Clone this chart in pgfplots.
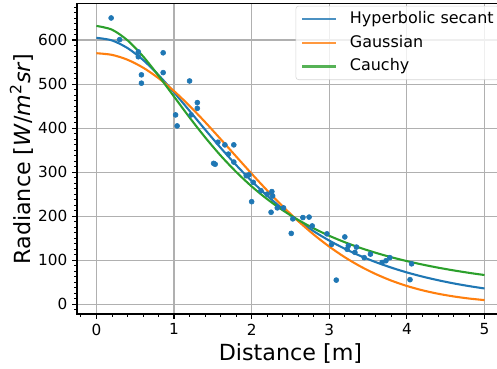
\documentclass[border=0pt]{standalone}
\usepackage{fontspec}
\setmainfont{DejaVu Sans}[ItalicFont={DejaVu Sans Oblique},BoldFont={DejaVu Sans Bold}]
\usepackage{pgfplots}
\pgfplotsset{compat=1.18}
\definecolor{c0}{HTML}{1F77B4}
\definecolor{c1}{HTML}{FF7F0E}
\definecolor{c2}{HTML}{2CA02C}
\definecolor{gridc}{HTML}{B0B0B0}
\definecolor{legc}{HTML}{CCCCCC}
\begin{document}
\begin{tikzpicture}
\begin{axis}[
  scale only axis, width=307.4pt, height=223.3pt,
  xmin=-0.25, xmax=5.25, ymin=-22, ymax=682,
  xtick={0,1,2,3,4,5}, ytick={0,100,200,300,400,500,600},
  minor xtick={-0.2,0,0.2,...,5.2},
  minor ytick={-12.5,0,12.5,...,675},
  tick align=outside, tick pos=left,
  major tick length=3.5pt, minor tick length=2pt,
  every tick/.style={black, line width=0.8pt},
  every minor tick/.style={black, line width=0.6pt},
  xmajorgrids, ymajorgrids,
  major grid style={gridc, line width=0.8pt},
  axis line style={black, line width=0.8pt},
  /pgf/number format/assume math mode=true,
  tick label style={font=\fontsize{11}{13}\selectfont},
  label style={font=\fontsize{16}{19}\selectfont},
  xlabel={Distance [m]},
  ylabel={Radiance [\textit{W}/\textit{m}\textsuperscript{2}\textit{sr}]},
  xlabel style={at={(axis description cs:0.5,0)}, anchor=base, yshift=-33.1pt},
  ylabel style={at={(axis description cs:-0.110,0.5)}, anchor=base},
  legend cell align=left,
  legend image code/.code={\draw[#1, line width=1.5pt] (0pt,0pt) -- (24pt,0pt); \path (33.4pt,0pt);},
  legend style={at={(rel axis cs:1,1)}, anchor=north east, xshift=-3.2pt, yshift=-1.4pt,
    draw=legc, rounded corners=2pt, fill=white, fill opacity=0.8, text opacity=1, draw opacity=0.8,
    inner sep=4pt, row sep=6pt,
    font=\fontsize{11.5}{14}\selectfont,
    nodes={inner sep=0pt, text height=8.5pt, text depth=2.5pt}},
]
\addplot[only marks, mark=*, mark size=1.8pt, color=c0, forget plot] coordinates {
(0.19,650) (0.30,601) (0.54,573) (0.54,562) (0.58,521) (0.58,502) (0.86,571) (0.86,526)
(1.20,507) (1.30,458) (1.30,445) (1.02,430) (1.04,405) (1.22,430) (1.565,368) (1.655,362)
(1.77,362) (1.70,341) (1.77,323) (1.51,320) (1.53,318) (1.93,292) (1.965,294) (2.02,277)
(2.00,233) (2.12,258) (2.20,250) (2.26,256) (2.27,246) (2.25,209) (2.33,219) (2.41,219)
(2.51,161) (2.53,194) (2.66,197) (2.74,198) (2.78,178) (2.97,160) (3.03,136) (3.09,55)
(3.20,153) (3.245,133) (3.23,125) (3.35,130) (3.33,118) (3.45,106) (3.53,114) (3.68,95)
(3.73,99) (3.78,106) (4.04,56) (4.06,92)
};
\addplot[c0, line width=1.5pt, smooth] coordinates {
(0,605) (0.2,599.1) (0.4,581.8) (0.6,554.9) (0.8,520.5) (1.0,481.1) (1.2,439.2) (1.4,396.8)
(1.6,355.4) (1.8,316.2) (2.0,279.8) (2.2,246.5) (2.4,216.5) (2.6,189.6) (2.8,165.8) (3.0,144.7)
(3.2,126.2) (3.4,109.9) (3.6,95.7) (3.8,83.3) (4.0,72.4) (4.2,63.0) (4.4,54.8) (4.6,47.6)
(4.8,41.4) (5.0,36.0)
};
\addlegendentry{Hyperbolic secant}
\addplot[c1, line width=1.5pt, smooth] coordinates {
(0,570) (0.2,566.3) (0.4,555.3) (0.6,537.4) (0.8,513.4) (1.0,484.1) (1.2,450.5) (1.4,413.8)
(1.6,375.1) (1.8,335.7) (2.0,296.5) (2.2,258.5) (2.4,222.4) (2.6,188.9) (2.8,158.3) (3.0,131.0)
(3.2,106.9) (3.4,86.2) (3.6,68.6) (3.8,53.8) (4.0,41.7) (4.2,31.9) (4.4,24.1) (4.6,18.0)
(4.8,13.2) (5.0,9.6)
};
\addlegendentry{Gaussian}
\addplot[c2, line width=1.5pt, smooth] coordinates {
(0,632) (0.2,623.5) (0.4,599.4) (0.6,563.1) (0.8,519.0) (1.0,471.6) (1.2,424.2) (1.4,379.2)
(1.6,337.8) (1.8,300.7) (2.0,267.7) (2.2,238.8) (2.4,213.6) (2.6,191.6) (2.8,172.4) (3.0,155.6)
(3.2,141.0) (3.4,128.1) (3.6,116.9) (3.8,106.9) (4.0,98.1) (4.2,90.3) (4.4,83.3) (4.6,77.1)
(4.8,71.5) (5.0,66.5)
};
\addlegendentry{Cauchy}
\end{axis}
\pgfresetboundingbox
\useasboundingbox ([xshift=-55.44pt,yshift=-38.9pt]current axis.south west) rectangle ([xshift=302.4pt,yshift=226.1pt]current axis.south west);
\end{tikzpicture}
\end{document}
